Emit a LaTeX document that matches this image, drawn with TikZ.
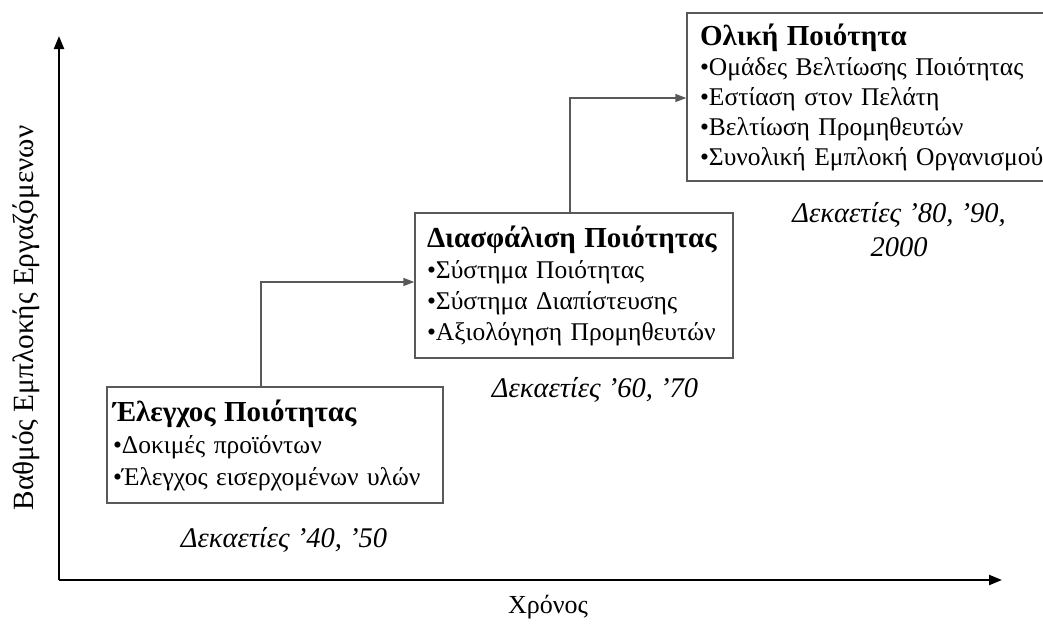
\documentclass[tikz,border=0pt]{standalone}
\usepackage{fontspec}
\setmainfont{Liberation Serif}
\usetikzlibrary{arrows.meta}
\tikzset{
  box/.style={draw=black!65, line width=1.4pt, fill=white, align=left, inner ysep=2pt, font=\fontsize{25.5}{31}\selectfont},
  conn/.style={draw=black!65, line width=1.4pt, -{Triangle[length=11pt,width=8pt]}},
  axis/.style={draw=black, line width=2.2pt, -{Triangle[length=13pt,width=10pt]}},
  decade/.style={font=\fontsize{28.5}{34}\selectfont\itshape, align=center}
}
\newcommand{\bt}[1]{\mbox{\fontsize{29}{31}\selectfont\bfseries #1}}
\newcommand{\li}[1]{\mbox{•#1}}
\begin{document}
\begin{tikzpicture}[x=1pt,y=-1pt]
\useasboundingbox (0,0) rectangle (1043,627);
\begin{scope}
\clip (0,0) rectangle (1043,627);
% axes
\coordinate (o) at (59,580);
\coordinate (ytip) at (59,36);
\coordinate (xtip) at (1002,580);
\draw[axis] (o) -- (ytip);
\draw[axis] (o) -- (xtip);
\node[font=\fontsize{29.3}{32}\selectfont, rotate=90] (ylab) at (26,318) {Βαθμός Εμπλοκής Εργαζόμενων};
\node[font=\fontsize{26}{28}\selectfont] (xlab) at (548,607) {Χρόνος};
% boxes
\node[box, minimum width=336pt, minimum height=116pt, inner xsep=6pt, text width=324pt, font=\fontsize{25.5}{32}\selectfont] (b1) at (275,445)
 {\bt{Έλεγχος Ποιότητας}\\\li{Δοκιμές προϊόντων}\\\li{Έλεγχος εισερχομένων υλών}};
\node[box, minimum width=318pt, minimum height=145pt, inner xsep=12pt, text width=294pt] (b2) at (574,285.5)
 {\bt{Διασφάλιση Ποιότητας}\\\li{Σύστημα Ποιότητας}\\\li{Σύστημα Διαπίστευσης}\\\li{Αξιολόγηση Προμηθευτών}};
\node[box, minimum width=358pt, minimum height=168pt, inner xsep=13pt, text width=332pt, font=\fontsize{25.5}{30}\selectfont] (b3) at (866,97)
 {\bt{Ολική Ποιότητα}\\\li{Ομάδες Βελτίωσης Ποιότητας}\\\li{Εστίαση στον Πελάτη}\\\li{Βελτίωση Προμηθευτών}\\\li{Συνολική Εμπλοκή Οργανισμού}};
% connectors
\draw[conn] (b1.north -| 261,0) |- (b2.west |- 0,282);
\draw[conn] (b2.north -| 570,0) |- (b3.west |- 0,98);
% decades
\node[decade] (d1) at (284,540) {Δεκαετίες ’40, ’50};
\node[decade] (d2) at (595,390) {Δεκαετίες ’60, ’70};
\node[decade] (d3) at (899,230) {Δεκαετίες ’80, ’90,\\2000};
\end{scope}
\end{tikzpicture}
\end{document}
